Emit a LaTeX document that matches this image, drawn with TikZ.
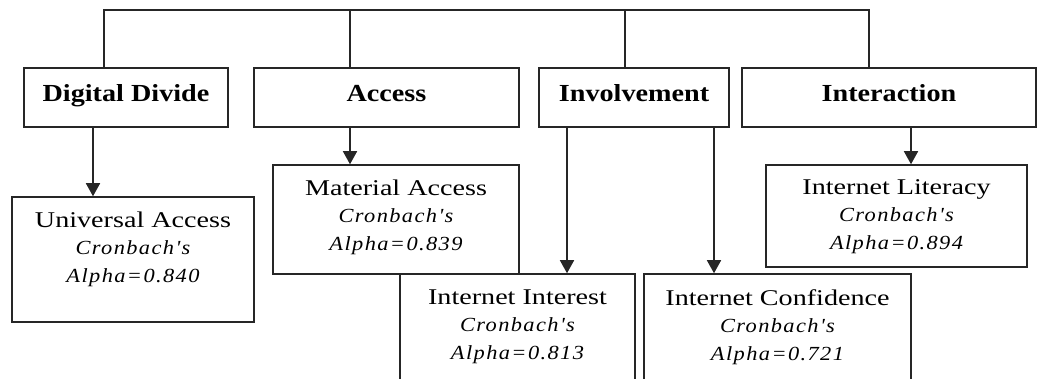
\documentclass[tikz,border=0pt]{standalone}
\usepackage{fontspec}
\setmainfont{Liberation Serif}
\newfontfamily\headfont{Liberation Serif}[FakeStretch=1.15]
\newfontfamily\namefont{Liberation Serif}[FakeStretch=1.25]
\newfontfamily\alphafont{Liberation Serif}[FakeStretch=1.12,LetterSpace=7]
\usetikzlibrary{arrows.meta,calc}

\tikzset{
  frame/.style={draw=black!85, line width=1.5pt, rectangle, inner sep=0pt},
  head/.style={frame, minimum height=59pt, text height=16pt, text depth=7pt,
    font=\headfont\bfseries\fontsize{24.5}{28}\selectfont},
  caption/.style={inner sep=0pt, align=center, anchor=north,
    font=\namefont\fontsize{22.5}{27.5}\selectfont},
  conn/.style={draw=black!85, line width=1.5pt},
  arr/.style={conn, -{Triangle[width=14pt,length=13pt]}},
}
\newcommand{\cronbach}[1]{{\alphafont\itshape\fontsize{20}{27.5}\selectfont Cronbach's}\\{\alphafont\itshape\fontsize{20}{27.5}\selectfont Alpha=#1}}

\begin{document}
\begin{tikzpicture}[x=1pt, y=-1pt]
  \useasboundingbox (0,0) rectangle (1038,379);
  \clip (0,0) rectangle (1038,379);

  % dimension headers
  \node[head, minimum width=204pt] (dd) at (126,97.5)   {Digital Divide};
  \node[head, minimum width=265pt] (ac) at (386.5,97.5) {Access};
  \node[head, minimum width=190pt] (iv) at (634,97.5)   {Involvement};
  \node[head, minimum width=294pt] (ix) at (889,97.5)   {Interaction};

  % measured constructs
  \node[frame, minimum width=242pt, minimum height=125pt] (ua) at (133,259.5) {};
  \node[caption] (ua-t) at ([yshift=-15pt]ua.north) {Universal Access\\\cronbach{0.840}};

  \node[frame, minimum width=246pt, minimum height=109pt] (ma) at (396,219.5) {};
  \node[caption] (ma-t) at ([yshift=-15pt]ma.north) {Material Access\\\cronbach{0.839}};

  \node[frame, minimum width=261pt, minimum height=102pt] (il) at (896.5,216) {};
  \node[caption] (il-t) at ([yshift=-15pt]il.north) {Internet Literacy\\\cronbach{0.894}};

  \node[frame, minimum width=235pt, minimum height=146pt] (ii) at (517.5,347) {};
  \node[caption] (ii-t) at ([yshift=-16pt]ii.north) {Internet Interest\\\cronbach{0.813}};

  \node[frame, minimum width=267pt, minimum height=146pt] (ic) at (777.5,347) {};
  \node[caption] (ic-t) at ([yshift=-16pt]ic.north) {Internet Confidence\\\cronbach{0.721}};

  % top bus joining the headers
  \coordinate (bus) at (0,10);
  \coordinate (ddIn) at ([xshift=-22pt]dd.north);
  \coordinate (acIn) at ([xshift=-36.5pt]ac.north);
  \coordinate (ivIn) at ([xshift=-9pt]iv.north);
  \coordinate (ixIn) at ([xshift=-20pt]ix.north);
  \draw[conn] (ddIn) |- (ixIn |- bus) -- (ixIn);
  \draw[conn] (acIn) -- (acIn |- bus);
  \draw[conn] (ivIn) -- (ivIn |- bus);

  % arrows from headers to constructs
  \coordinate (ddOut)  at ([xshift=-33pt]dd.south);
  \coordinate (acOut)  at ([xshift=-36.5pt]ac.south);
  \coordinate (ivOutA) at ([xshift=-67pt]iv.south);
  \coordinate (ivOutB) at ([xshift=80pt]iv.south);
  \coordinate (ixOut)  at ([xshift=22pt]ix.south);
  \draw[arr] (ddOut)  -- (ddOut  |- ua.north);
  \draw[arr] (acOut)  -- (acOut  |- ma.north);
  \draw[arr] (ivOutA) -- (ivOutA |- ii.north);
  \draw[arr] (ivOutB) -- (ivOutB |- ic.north);
  \draw[arr] (ixOut)  -- (ixOut  |- il.north);
\end{tikzpicture}
\end{document}
